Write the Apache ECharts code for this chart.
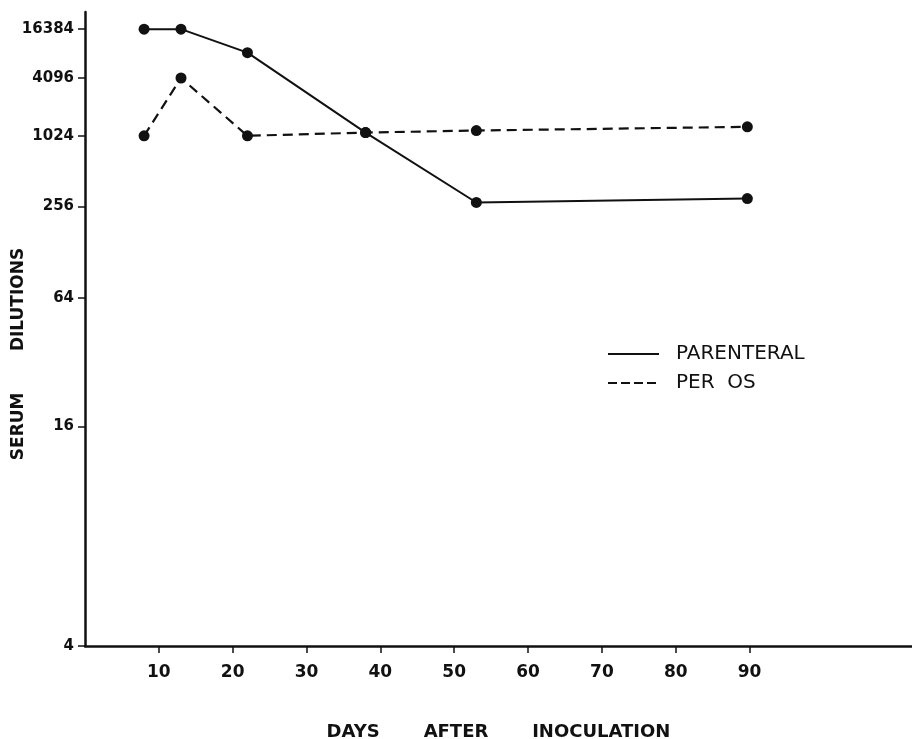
<!DOCTYPE html>
<html>
<head>
<meta charset="utf-8">
<title>Serum dilutions after inoculation</title>
<script src="https://cdn.jsdelivr.net/npm/echarts@6/dist/echarts.min.js"></script>
<style>
html, body { margin: 0; padding: 0; background: #fff; }
#chart { width: 912px; height: 739px; }
</style>
</head>
<body>
<div id="chart"></div>
<script>
// values
var days = [8, 13, 22, 38, 53, 89.7];
var parenteral = [16384, 16384, 8192, 1100, 275, 295];
var perOs = [1024, 4096, 1024, 1100, 1150, 1250];

var dilutionTicks = [4, 16, 64, 256, 1024, 4096, 16384];
var dilutionLabels = ['4', '16', '64', '256', '1024', '4096', '16384'];
var dayTicks = [10, 20, 30, 40, 50, 60, 70, 80, 90];

// the original axis is log of log4(dilution)
function toAxis(v) {
  return Math.log(Math.log(v) / Math.log(4));
}

function pairs(xs, ys) {
  return xs.map(function (x, i) { return [x, toAxis(ys[i])]; });
}

var yTickPos = dilutionTicks.map(toAxis);
var font = 'DejaVu Sans';

var chart = echarts.init(document.getElementById('chart'));
chart.setOption({
  animation: false,
  backgroundColor: '#fff',
  grid: { left: 85, right: 0, top: 12, bottom: 93, outerBoundsMode: 'none', containLabel: false },
  legend: {
    orient: 'vertical',
    left: 607,
    top: 344,
    padding: 0,
    itemWidth: 51,
    itemHeight: 14,
    itemGap: 9,
    itemStyle: { opacity: 0 },
    textStyle: {
      fontFamily: font,
      fontSize: 20,
      color: '#111',
      lineHeight: 20,
      padding: [0, 0, 0, 12]
    },
    data: [
      { name: 'PARENTERAL' },
      { name: 'PER  OS', lineStyle: { type: [9, 4] } }
    ]
  },
  xAxis: {
    type: 'value',
    min: 0,
    max: 112,
    name: 'DAYS       AFTER       INOCULATION',
    nameLocation: 'middle',
    nameGap: 77,
    nameMoveOverlap: false,
    nameTextStyle: { fontFamily: font, fontSize: 18, fontWeight: 'bold', color: '#111' },
    axisLine: { show: true, onZero: false, lineStyle: { color: '#111', width: 2.5 } },
    axisTick: { show: true, length: 7, customValues: dayTicks, lineStyle: { color: '#111', width: 1.5 } },
    axisLabel: {
      customValues: dayTicks,
      margin: 18,
      fontFamily: font,
      fontSize: 17,
      fontWeight: 'bold',
      color: '#111'
    },
    splitLine: { show: false }
  },
  yAxis: {
    type: 'value',
    min: 0,
    max: 2,
    name: 'SERUM       DILUTIONS',
    nameLocation: 'middle',
    nameRotate: 90,
    nameGap: 58,
    nameMoveOverlap: false,
    nameTextStyle: {
      fontFamily: font,
      fontSize: 17,
      fontWeight: 'bold',
      color: '#111',
      padding: [0, 50, 0, 0]
    },
    axisLine: { show: true, onZero: false, lineStyle: { color: '#111', width: 2.5 } },
    axisTick: { show: true, length: 7, customValues: yTickPos, lineStyle: { color: '#111', width: 1.5 } },
    axisLabel: {
      customValues: yTickPos,
      margin: 11,
      fontFamily: font,
      fontSize: 15,
      fontWeight: 'bold',
      color: '#111',
      formatter: function (value) {
        for (var i = 0; i < yTickPos.length; i++) {
          if (Math.abs(yTickPos[i] - value) < 1e-6) return dilutionLabels[i];
        }
        return '';
      }
    },
    splitLine: { show: false }
  },
  series: [
    {
      name: 'PARENTERAL',
      type: 'line',
      data: pairs(days, parenteral),
      symbol: 'circle',
      symbolSize: 11,
      itemStyle: { color: '#111' },
      lineStyle: { color: '#111', width: 2 }
    },
    {
      name: 'PER  OS',
      type: 'line',
      data: pairs(days, perOs),
      symbol: 'circle',
      symbolSize: 11,
      itemStyle: { color: '#111' },
      lineStyle: { color: '#111', width: 2.2, type: [10, 6] }
    }
  ]
});
</script>
</body>
</html>
